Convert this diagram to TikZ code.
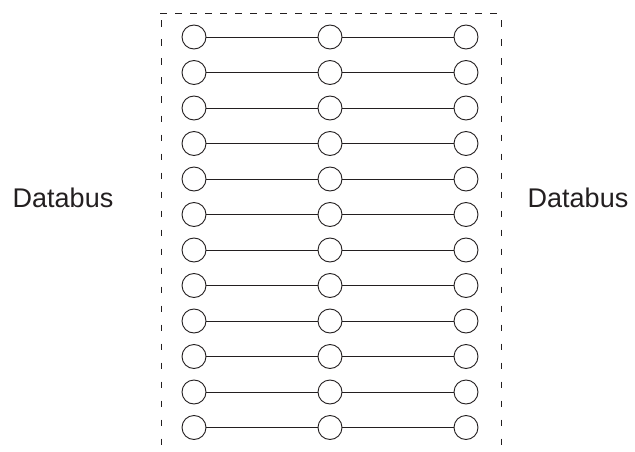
\documentclass[tikz,border=0pt]{standalone}
\usepackage{fontspec}
\setmainfont{Liberation Sans}
\definecolor{inkgray}{RGB}{35,31,32}
\usetikzlibrary{positioning}
\tikzset{
  port/.style={circle,draw=inkgray,line width=0.9pt,minimum size=24pt,inner sep=0pt},
  wire/.style={draw=inkgray,line width=0.9pt},
  frametop/.style={draw=inkgray,line width=0.9pt,dash pattern=on 7pt off 8pt},
  frameside/.style={draw=inkgray,line width=0.9pt,dash pattern=on 6.5pt off 12.5pt},
  buslabel/.style={font=\fontsize{27}{27}\selectfont\color{inkgray}}
}
\begin{document}
\begin{tikzpicture}[x=1pt,y=-1pt]
  \useasboundingbox (0,0) rectangle (635,452);
  % dashed frame, open at the bottom
  \draw[frametop] (160,13) -- (501,13);
  \draw[frameside] (161,20.5) -- (161,452);
  \draw[frameside] (501,20.5) -- (501,452);
  \foreach \i in {1,...,12}{
    \node[port] (a\i) at (194,{37+(\i-1)*35.5}) {};
    \node[port] (b\i) at (330,{37+(\i-1)*35.5}) {};
    \node[port] (c\i) at (466,{37+(\i-1)*35.5}) {};
    \draw[wire] (a\i) -- (b\i) -- (c\i);
  }
  \node[buslabel] (busL) at (63,198) {Databus};
  \node[buslabel] (busR) at (578,198) {Databus};
\end{tikzpicture}
\end{document}
